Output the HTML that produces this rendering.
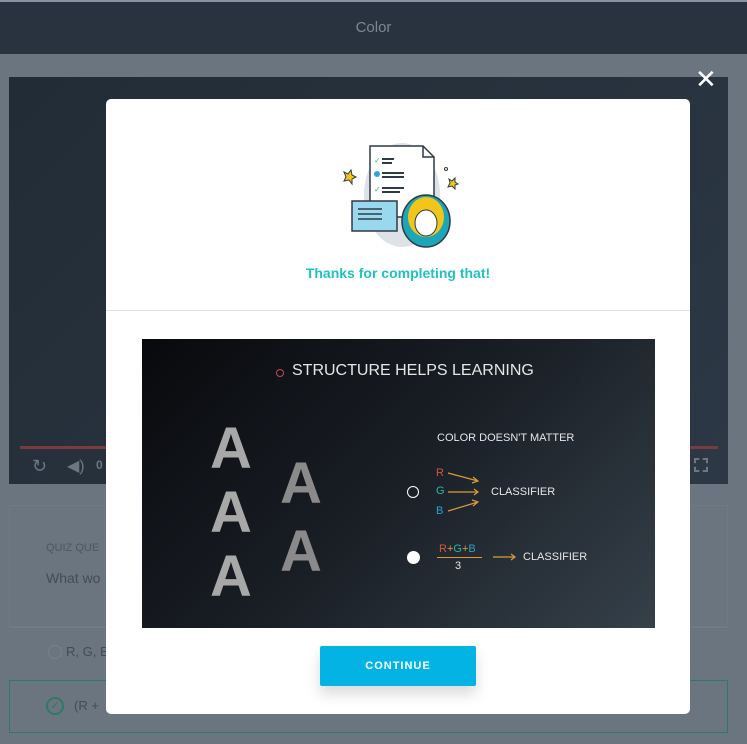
<!DOCTYPE html>
<html><head><meta charset="utf-8"><style>
*{margin:0;padding:0;box-sizing:border-box}
body{width:747px;height:744px;overflow:hidden;background:#6b757f;font-family:"Liberation Sans",sans-serif;position:relative}
.abs{position:absolute}
</style></head><body>
<div class="abs" style="left:0;top:0;width:747px;height:2px;background:#8a929a"></div>
<div class="abs" style="left:0;top:2px;width:747px;height:52px;background:#29333f;color:#7d8791;font-size:15px;text-align:center;line-height:52px">Color</div>
<div class="abs" style="left:9px;top:77px;width:719px;height:407px;background:linear-gradient(135deg,#222c36,#2c3845)"></div>
<div class="abs" style="left:20px;top:446px;width:698px;height:3px;background:#7a3a40"></div>
<div class="abs" style="left:32px;top:456px;color:#6d7782;font-size:18px">↻</div>
<div class="abs" style="left:67px;top:456px;color:#6d7782;font-size:16px">◀)</div>
<div class="abs" style="left:96px;top:458px;color:#6d7782;font-size:12px;font-weight:bold">0</div>
<div class="abs" style="left:694px;top:458px;width:14px;height:14px;border:2px dashed #6d7782"></div>
<div class="abs" style="left:9px;top:505px;width:719px;height:122px;background:#6b757f;border:1px solid #6f7a84"></div>
<div class="abs" style="left:46px;top:542px;color:#4d5661;font-size:11px">QUIZ QUE</div>
<div class="abs" style="left:46px;top:570px;color:#434c56;font-size:14px">What wo</div>
<div class="abs" style="left:9px;top:627px;width:719px;height:53px;border-top:1px solid #6f7a84"></div>
<div class="abs" style="left:48px;top:645px;width:14px;height:14px;border:1px solid #77818b;border-radius:50%"></div>
<div class="abs" style="left:66px;top:644px;color:#434c56;font-size:13px">R, G, E</div>
<div class="abs" style="left:9px;top:680px;width:719px;height:53px;border:1px solid #2e7a64"></div>
<div class="abs" style="left:46px;top:697px;width:18px;height:18px;border:2px solid #2e7a64;border-radius:50%;color:#2e7a64;font-size:11px;text-align:center;line-height:14px">✓</div>
<div class="abs" style="left:74px;top:698px;color:#434c56;font-size:13px">(R + </div>
<div class="abs" style="left:695px;top:64px;color:#fff;font-size:26px;line-height:30px">✕</div>

<div class="abs" style="left:106px;top:99px;width:584px;height:615px;background:#fff;border-radius:5px">
 <svg class="abs" style="left:230px;top:40px" width="130" height="115" viewBox="0 0 130 115">
  <ellipse cx="66" cy="56" rx="38" ry="52" fill="#dde2e8"/>
  <path d="M34 7h53l11 11v60H34z" fill="#fff" stroke="#2e3a45" stroke-width="1.5"/>
  <path d="M87 7v11h11" fill="none" stroke="#2e3a45" stroke-width="1.5"/>
  <g stroke="#2e3a45" stroke-width="2"><line x1="46" y1="20" x2="58" y2="20"/><line x1="46" y1="24" x2="56" y2="24"/><line x1="46" y1="34" x2="68" y2="34"/><line x1="46" y1="38" x2="68" y2="38"/><line x1="46" y1="49" x2="68" y2="49"/><line x1="46" y1="53" x2="64" y2="53"/></g>
  <text x="38" y="24" fill="#2bb673" font-size="8">✓</text><text x="38" y="53" fill="#2bb673" font-size="8">✓</text>
  <circle cx="41" cy="35" r="3" fill="#2aa6de"/>
  <rect x="16" y="62" width="45" height="30" fill="#9ad8ef" stroke="#2e3a45" stroke-width="1.5"/>
  <g stroke="#2e3a45" stroke-width="1.5"><line x1="22" y1="70" x2="46" y2="70"/><line x1="22" y1="75" x2="46" y2="75"/><line x1="22" y1="80" x2="46" y2="80"/></g>
  <ellipse cx="90" cy="82" rx="24" ry="26" fill="#1da6b8" stroke="#2e3a45" stroke-width="1.5"/>
  <ellipse cx="90" cy="78" rx="18" ry="20" fill="#f2c51b"/>
  <ellipse cx="90" cy="84" rx="11" ry="13" fill="#fff" stroke="#2e3a45"/>
  <path d="M8 33l4 2 3-4 1 5 4 2-4 2 0 5-3-4-5 1 2-4z" fill="#f2c51b" stroke="#2e3a45"/>
  <path d="M113 40l3 2 3-3 0 4 3 2-3 1 0 4-3-3-4 1 2-4z" fill="#f2c51b" stroke="#2e3a45"/>
  <circle cx="110" cy="30" r="1.5" fill="none" stroke="#2e3a45"/>
 </svg>
 <div class="abs" style="left:0;top:166px;width:584px;text-align:center;color:#1fc2be;font-size:14px;font-weight:bold">Thanks for completing that!</div>
 <div class="abs" style="left:0;top:211px;width:584px;height:1px;background:#e0e3e6"></div>
 <div class="abs" style="left:36px;top:240px;width:513px;height:289px;background:linear-gradient(135deg,#08090c 0%,#1a1f26 50%,#35404a 100%);color:#e6e6e6">
  <div class="abs" style="left:134px;top:30px;width:8px;height:8px;border:1.5px solid #c04a5c;border-radius:50%"></div>
  <div class="abs" style="left:150px;top:23px;font-size:16px;white-space:nowrap">STRUCTURE HELPS LEARNING</div>
  <div class="abs" style="left:68px;top:78px;font-size:58px;font-weight:bold;line-height:64px;color:#a8a8a8">A<br>A<br>A</div>
  <div class="abs" style="left:138px;top:111px;font-size:58px;font-weight:bold;line-height:68px;color:#8a8a8a">A<br>A</div>
  <div class="abs" style="left:295px;top:93px;font-size:11px;white-space:nowrap">COLOR DOESN'T MATTER</div>
  <div class="abs" style="left:265px;top:147px;width:12px;height:12px;border:1.5px solid #fff;border-radius:50%"></div>
  <div class="abs" style="left:294px;top:128px;font-size:11px;color:#d0583e">R</div>
  <div class="abs" style="left:294px;top:146px;font-size:11px;color:#2bb5a3">G</div>
  <div class="abs" style="left:294px;top:166px;font-size:11px;color:#2a9fd0">B</div>
  <svg class="abs" style="left:304px;top:130px" width="36" height="46"><g stroke="#d99a3c" stroke-width="1.2" fill="none"><path d="M2 4L32 12M27 8l5 4-6 2"/><path d="M2 23H32M28 20l4 3-4 3"/><path d="M2 42L32 33M26 31l6 2-5 4"/></g></svg>
  <div class="abs" style="left:349px;top:147px;font-size:11px;white-space:nowrap">CLASSIFIER</div>
  <div class="abs" style="left:265px;top:212px;width:13px;height:13px;background:#fff;border-radius:50%"></div>
  <div class="abs" style="left:297px;top:204px;font-size:11px;white-space:nowrap"><span style="color:#d0583e">R</span><span style="color:#d99a3c">+</span><span style="color:#2bb5a3">G</span><span style="color:#d99a3c">+</span><span style="color:#2a9fd0">B</span></div>
  <div class="abs" style="left:295px;top:218px;width:45px;height:1px;background:#d99a3c"></div>
  <div class="abs" style="left:313px;top:221px;font-size:11px">3</div>
  <svg class="abs" style="left:350px;top:213px" width="26" height="10"><g stroke="#d99a3c" stroke-width="1.2" fill="none"><path d="M1 5H23M19 2l4 3-4 3"/></g></svg>
  <div class="abs" style="left:381px;top:212px;font-size:11px;white-space:nowrap">CLASSIFIER</div>
 </div>
 <div class="abs" style="left:214px;top:547px;width:156px;height:40px;background:#02b3e4;border-radius:2px;color:#fff;font-size:11px;font-weight:bold;letter-spacing:1px;text-align:center;line-height:40px;box-shadow:0 8px 14px rgba(0,0,0,0.15)">CONTINUE</div>
</div>
</body></html>
